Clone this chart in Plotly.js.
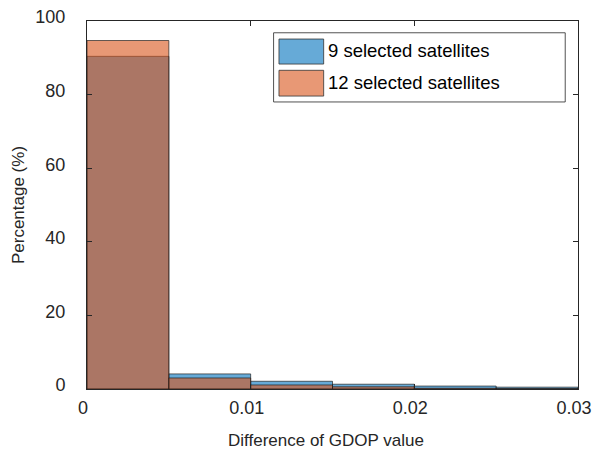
<!DOCTYPE html>
<html>
<head>
<meta charset="utf-8">
<script src="https://cdn.plot.ly/plotly-3.0.1.min.js"></script>
<style>html,body{margin:0;padding:0;background:#fff;}#chart{width:592px;height:449px;}</style>
</head>
<body>
<div id="chart"></div>
<script>
// ---- data ----
const binCenters = [0.0025, 0.0075, 0.0125, 0.0175, 0.0225, 0.0275];
const binWidth = 0.005;
const seriesNames = ["9 selected satellites", "12 selected satellites"];
const pct9 = [90.4, 4.1, 2.1, 1.3, 0.8, 0.5];
const pct12 = [94.7, 3.0, 1.1, 0.6, 0.2, 0.1];
const xTickVals = [0, 0.01, 0.02, 0.03];
const xTickText = ["0", "0.01", "0.02", "0.03"];
const yTickVals = [0, 20, 40, 60, 80, 100];
const xTitle = "Difference of GDOP value";
const yTitle = "Percentage (%)";

const blueFill = "rgba(0,114,189,0.6)";
const orangeFill = "rgba(217,83,25,0.6)";
const edge = "rgba(30,30,30,0.85)";
const axisCol = "#262626";
const fam = "Liberation Sans, Arial, sans-serif";
const tickFont = {family: fam, size: 18, color: axisCol};
const titleFont = {family: fam, size: 17, color: axisCol};

const traces = [
  {type: "bar", x: binCenters, y: pct9, width: binCenters.map(() => binWidth), name: seriesNames[0],
   marker: {color: blueFill, line: {color: edge, width: 0.8}}, showlegend: false},
  {type: "bar", x: binCenters, y: pct12, width: binCenters.map(() => binWidth), name: seriesNames[1],
   marker: {color: orangeFill, line: {color: edge, width: 0.8}}, showlegend: false}
];

// legend box drawn in paper coords (MATLAB-style large swatches)
const lg = {x0: 0.380, x1: 0.974, y0: 0.780, y1: 0.968};
const shapes = [
  {type: "rect", xref: "paper", yref: "paper", x0: lg.x0, x1: lg.x1, y0: lg.y0, y1: lg.y1,
   line: {color: axisCol, width: 0.8}, fillcolor: "#fff", layer: "above"},
  {type: "rect", xref: "paper", yref: "paper", x0: 0.391, x1: 0.482, y0: 0.883, y1: 0.951,
   line: {color: "#333", width: 0.8}, fillcolor: blueFill, layer: "above"},
  {type: "rect", xref: "paper", yref: "paper", x0: 0.391, x1: 0.482, y0: 0.796, y1: 0.866,
   line: {color: "#333", width: 0.8}, fillcolor: orangeFill, layer: "above"}
];
const annotations = [
  {xref: "paper", yref: "paper", x: 0.487, y: 0.919, xanchor: "left", yanchor: "middle",
   text: seriesNames[0], showarrow: false, font: {family: fam, size: 18.5, color: "#000"}},
  {xref: "paper", yref: "paper", x: 0.487, y: 0.833, xanchor: "left", yanchor: "middle",
   text: seriesNames[1], showarrow: false, font: {family: fam, size: 18.5, color: "#000"}},
  {xref: "paper", yref: "paper", x: 0.487, y: 0, yshift: -40, xanchor: "center", yanchor: "top",
   text: xTitle, showarrow: false, font: titleFont}
];

const layout = {
  width: 592, height: 449,
  margin: {l: 87, r: 14, t: 21, b: 60},
  paper_bgcolor: "#fff", plot_bgcolor: "#fff",
  barmode: "overlay", bargap: 0,
  font: titleFont,
  showlegend: false,
  xaxis: {range: [0, 0.0300001], tickvals: xTickVals, ticktext: xTickText, ticks: "inside", ticklen: 5,
          tickcolor: axisCol, showline: true, linecolor: axisCol, linewidth: 1, mirror: "ticks",
          showgrid: false, zeroline: false, tickfont: tickFont, ticklabelshift: -4, ticklabelstandoff: 2,
          ticklabeloverflow: "allow"},
  yaxis: {range: [0, 100], tickvals: yTickVals, ticks: "inside", ticklen: 5,
          tickcolor: axisCol, showline: true, linecolor: axisCol, linewidth: 1, mirror: "ticks",
          showgrid: false, zeroline: false, tickfont: tickFont, ticklabelshift: -4, ticklabelstandoff: 17,
          title: {text: yTitle, font: titleFont, standoff: 6}},
  shapes: shapes,
  annotations: annotations
};

Plotly.newPlot("chart", traces, layout, {displayModeBar: false, staticPlot: true});
</script>
</body>
</html>
